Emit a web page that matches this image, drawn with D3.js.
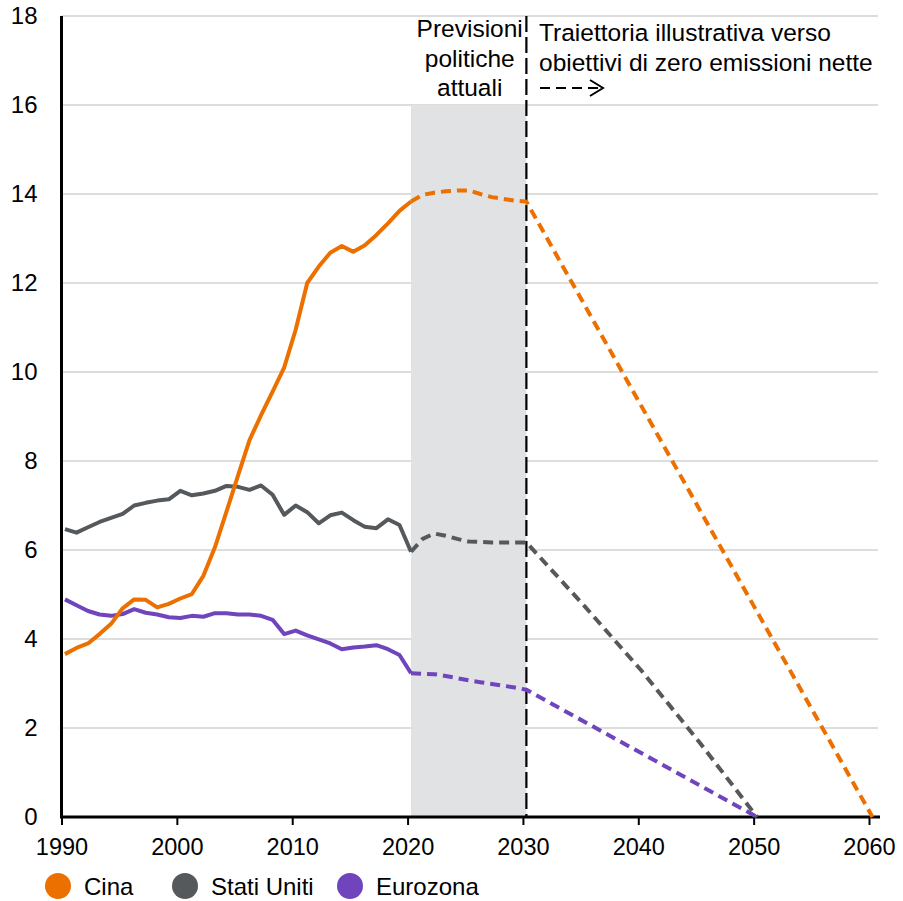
<!DOCTYPE html>
<html>
<head>
<meta charset="utf-8">
<script src="https://cdn.jsdelivr.net/npm/d3@7"></script>
<style>
  body { margin: 0; background: #fff; }
  svg text { font-family: "Liberation Sans", Arial, sans-serif; fill: #000; }
</style>
</head>
<body>
<svg></svg>
<script>
// historical data, 1990-2020
var histYears = d3.range(1990, 2021)
var cinaHist = [3.66, 3.80, 3.90, 4.11, 4.34, 4.69, 4.89, 4.88, 4.71, 4.79, 4.91, 5.01, 5.42,
  6.06, 6.86, 7.67, 8.47, 9.03, 9.56, 10.10, 10.95, 12.00, 12.37, 12.68, 12.83, 12.70, 12.85,
  13.08, 13.34, 13.62, 13.83]
var usaHist = [6.47, 6.39, 6.51, 6.63, 6.72, 6.81, 7.00, 7.06, 7.11, 7.14, 7.33, 7.23, 7.27,
  7.33, 7.44, 7.42, 7.35, 7.45, 7.24, 6.79, 7.00, 6.85, 6.60, 6.78, 6.84, 6.67, 6.52, 6.49,
  6.69, 6.56, 5.96]
var euHist = [4.89, 4.76, 4.63, 4.55, 4.52, 4.56, 4.67, 4.59, 4.55, 4.49, 4.47, 4.52, 4.50,
  4.58, 4.58, 4.55, 4.55, 4.52, 4.43, 4.11, 4.19, 4.08, 3.99, 3.90, 3.77, 3.81, 3.83, 3.86,
  3.77, 3.64, 3.23]

// projections (null = no point)
var projYears = [2020, 2021, 2022, 2023, 2024, 2025, 2026, 2027, 2028, 2029, 2030, 2035, 2040, 2045, 2050, 2060]
var cinaProj = [13.83, 13.98, 14.03, 14.06, 14.08, 14.08, 14.00, 13.93, 13.89, 13.85, 13.83, null, null, null, null, 0]
var usaProj = [5.96, 6.25, 6.37, 6.32, 6.25, 6.19, 6.18, 6.17, 6.17, 6.17, 6.17, 4.75, 3.28, 1.68, 0, null]
var euProj = [3.23, 3.22, 3.21, 3.17, 3.12, 3.07, 3.03, 2.99, 2.95, 2.91, 2.86, null, null, null, 0, null]

var seriesNames = ['Cina', 'Stati Uniti', 'Eurozona']
var seriesColors = ['#ec7000', '#55595c', '#6f44bd']
var xTicks = [1990, 2000, 2010, 2020, 2030, 2040, 2050, 2060]
var yTicks = [0, 2, 4, 6, 8, 10, 12, 14, 16, 18]

var width = 903
var height = 901
var svg = d3.select('svg').attr('width', width).attr('height', height)

var x = d3.scaleLinear().domain([1990, 2060]).range([61.5, 869])
var y = d3.scaleLinear().domain([0, 18]).range([817, 16])
var offs = 0.3 // points sit a bit after the year tick

// gridlines
svg.append('g')
  .selectAll('line')
  .data(yTicks.filter(function (t) { return t > 0 }))
  .enter().append('line')
    .attr('x1', x(1990)).attr('x2', 878)
    .attr('y1', function (t) { return y(t) })
    .attr('y2', function (t) { return y(t) })
    .attr('stroke', '#d2d2d2')
    .attr('stroke-width', 1.4)

// shaded policy band
svg.append('rect')
  .attr('x', x(2020 + offs))
  .attr('y', y(16))
  .attr('width', x(2030 + offs) - x(2020 + offs))
  .attr('height', y(0) - y(16))
  .attr('fill', '#e1e2e4')

// vertical dashed line at 2030
svg.append('line')
  .attr('x1', x(2030 + offs)).attr('x2', x(2030 + offs))
  .attr('y1', y(18)).attr('y2', y(0))
  .attr('stroke', '#000')
  .attr('stroke-width', 2.2)
  .attr('stroke-dasharray', '16,5')

// axes
var xAxis = d3.axisBottom(x).tickValues(xTicks).tickFormat(d3.format('d')).tickSize(8).tickPadding(8)
var gx = svg.append('g').attr('transform', 'translate(0,' + y(0) + ')').call(xAxis)
gx.select('.domain').remove()
gx.selectAll('.tick line').attr('stroke', '#000').attr('stroke-width', 2)
gx.selectAll('.tick text').attr('font-size', 23.5).attr('dy', '0.93em')

var yAxis = d3.axisLeft(y).tickValues(yTicks).tickSize(0).tickPadding(24)
var gy = svg.append('g').attr('transform', 'translate(' + x(1990) + ',0)').call(yAxis)
gy.select('.domain').remove()
gy.selectAll('.tick text').attr('font-size', 24)

svg.append('line')
  .attr('x1', x(1990)).attr('x2', 880)
  .attr('y1', y(0)).attr('y2', y(0))
  .attr('stroke', '#000').attr('stroke-width', 3)
svg.append('line')
  .attr('x1', x(1990)).attr('x2', x(1990))
  .attr('y1', y(18)).attr('y2', y(0) + 1.5)
  .attr('stroke', '#000').attr('stroke-width', 3)

// lines
var line = d3.line()
  .x(function (d) { return x(d.year + offs) })
  .y(function (d) { return y(d.value) })

function pairs(years, values) {
  return years.map(function (yr, i) { return { year: yr, value: values[i] } })
    .filter(function (d) { return d.value !== null })
}

var hist = [cinaHist, usaHist, euHist]
var proj = [cinaProj, usaProj, euProj]

// draw back to front: eurozona, usa, cina
for (var i = 2; i >= 0; i--) {
  svg.append('path')
    .datum(pairs(projYears, proj[i]))
    .attr('d', line)
    .attr('fill', 'none')
    .attr('stroke', seriesColors[i])
    .attr('stroke-width', 4)
    .attr('stroke-dasharray', '10,6')
  svg.append('path')
    .datum(pairs(histYears, hist[i]))
    .attr('d', line)
    .attr('fill', 'none')
    .attr('stroke', seriesColors[i])
    .attr('stroke-width', 4)
    .attr('stroke-linejoin', 'round')
}

// annotations
var midBand = (x(2020 + offs) + x(2030 + offs)) / 2
svg.append('text')
  .attr('font-size', 24.5)
  .attr('text-anchor', 'middle')
  .selectAll('tspan')
  .data(['Previsioni', 'politiche', 'attuali'])
  .enter().append('tspan')
    .attr('x', midBand + 1)
    .attr('y', function (d, i) { return 37 + i * 29.5 })
    .text(function (d) { return d })

svg.append('text')
  .attr('font-size', 24.5)
  .selectAll('tspan')
  .data(['Traiettoria illustrativa verso', 'obiettivi di zero emissioni nette'])
  .enter().append('tspan')
    .attr('x', 539)
    .attr('y', function (d, i) { return 41 + i * 30 })
    .text(function (d) { return d })

svg.append('line')
  .attr('x1', 540).attr('x2', 601)
  .attr('y1', 88).attr('y2', 88)
  .attr('stroke', '#000').attr('stroke-width', 2)
  .attr('stroke-dasharray', '10,6')
svg.append('path')
  .attr('d', 'M590,80 L603,88 L590,96')
  .attr('fill', 'none')
  .attr('stroke', '#000').attr('stroke-width', 2)

// legend
var legX = [58, 185, 350]
var leg = svg.append('g')
  .selectAll('g')
  .data(seriesNames)
  .enter().append('g')
    .attr('transform', function (d, i) { return 'translate(' + legX[i] + ',886)' })
leg.append('circle')
  .attr('r', 13)
  .attr('fill', function (d, i) { return seriesColors[i] })
leg.append('text')
  .attr('x', 26)
  .attr('y', 9)
  .attr('font-size', 24)
  .text(function (d) { return d })
</script>
</body>
</html>
